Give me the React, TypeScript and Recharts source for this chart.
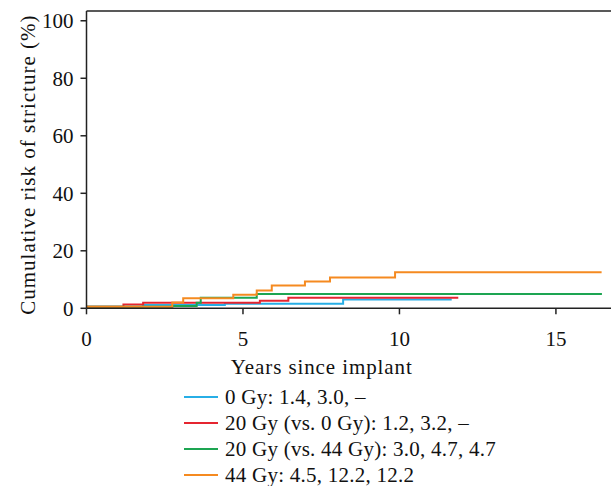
import React from 'react';
import { LineChart, Line, XAxis, YAxis, ReferenceLine, Legend } from 'recharts';

// Tick values
const xTicks = [0, 5, 10, 15];
const yTicks = [0, 20, 40, 60, 80, 100];

// Series: step times (years) and cumulative risk (%)
const blueTimes = [0, 1.8, 4.42, 8.2, 11.67];
const blueRisk = [0.5, 1.15, 1.6, 3.1, 3.1];

const redTimes = [0, 1.18, 1.81, 5.54, 6.45, 11.88];
const redRisk = [0.5, 1.3, 1.9, 2.6, 3.7, 3.7];

const greenTimes = [0, 2.74, 3.52, 3.65, 5.44, 16.47];
const greenRisk = [0.5, 0.8, 1.9, 3.7, 5.0, 5.0];

const orangeTimes = [0, 2.74, 3.09, 4.69, 5.44, 5.92, 6.98, 7.78, 9.86, 16.46];
const orangeRisk = [0.5, 2.0, 3.5, 4.7, 6.2, 7.9, 9.3, 10.7, 12.5, 12.5];

const legendLabels = [
  '0 Gy: 1.4, 3.0, \u2013',
  '20 Gy (vs. 0 Gy): 1.2, 3.2, \u2013',
  '20 Gy (vs. 44 Gy): 3.0, 4.7, 4.7',
  '44 Gy: 4.5, 12.2, 12.2',
];
const colors = ['#27aee6', '#e52530', '#1da552', '#f58a20'];

const toPoints = (t: number[], r: number[]) => t.map((x, i) => ({ x, y: r[i] }));

const series = [
  toPoints(blueTimes, blueRisk),
  toPoints(redTimes, redRisk),
  toPoints(greenTimes, greenRisk),
  toPoints(orangeTimes, orangeRisk),
];

const FONT = '"Liberation Serif", serif';
const X_MAX = 16.76;
const Y_MAX = 103.4;

const YLabel = (props: any) => {
  const vb = props.viewBox || {};
  const cx = 35;
  const cy = vb.y + vb.height / 2 + 5;
  return (
    <text
      x={cx}
      y={cy}
      transform={`rotate(-90, ${cx}, ${cy})`}
      textAnchor="middle"
      fontFamily={FONT}
      fontSize={21}
      letterSpacing={1}
      fill="#111"
    >
      Cumulative risk of stricture (%)
    </text>
  );
};

const LegendContent = () => (
  <div style={{ fontFamily: FONT, fontSize: 21, color: '#111', letterSpacing: 0.25 }}>
    {legendLabels.map((l, i) => (
      <div key={l} style={{ height: 26, lineHeight: '26px', display: 'flex', alignItems: 'center', whiteSpace: 'nowrap' }}>
        <svg width={34} height={4} style={{ marginRight: 7 }}>
          <line x1={0} y1={2} x2={34} y2={2} stroke={colors[i]} strokeWidth={2} />
        </svg>
        <span>{l}</span>
      </div>
    ))}
  </div>
);

export default function App() {
  return (
    <div style={{ position: 'absolute', left: 0, top: 0, width: 611, height: 486, background: '#fff' }}>
      <LineChart width={611} height={486} margin={{ top: 11, right: 0, bottom: 107.7, left: 0 }}>
        <XAxis
          type="number"
          dataKey="x"
          domain={[0, X_MAX]}
          ticks={xTicks}
          allowDataOverflow
          stroke="#222"
          strokeWidth={1.5}
          tickSize={6}
          tickMargin={17}
          height={70}
          tick={{ fill: '#111', fontFamily: FONT, fontSize: 21 }}
          label={{ value: 'Years since implant', position: 'insideTop', offset: 51, dx: -27, fill: '#111', fontFamily: FONT, fontSize: 21, letterSpacing: 0.9 }}
        />
        <YAxis
          type="number"
          domain={[0, Y_MAX]}
          ticks={yTicks}
          allowDataOverflow
          width={86.5}
          stroke="#222"
          strokeWidth={1.5}
          tickSize={6}
          tickMargin={7}
          tick={{ fill: '#111', fontFamily: FONT, fontSize: 21 }}
          label={<YLabel />}
        />
        <ReferenceLine y={Y_MAX} stroke="#222" strokeWidth={1.5} />
        {series.map((d, i) => (
          <Line
            key={i}
            data={d}
            dataKey="y"
            type="stepAfter"
            stroke={colors[i]}
            strokeWidth={2}
            dot={false}
            activeDot={false}
            isAnimationActive={false}
          />
        ))}
        <Legend
          layout="vertical"
          align="center"
          verticalAlign="middle"
          content={<LegendContent />}
          wrapperStyle={{ top: 384, left: 184, width: 'auto', height: 'auto' }}
        />
      </LineChart>
    </div>
  );
}
